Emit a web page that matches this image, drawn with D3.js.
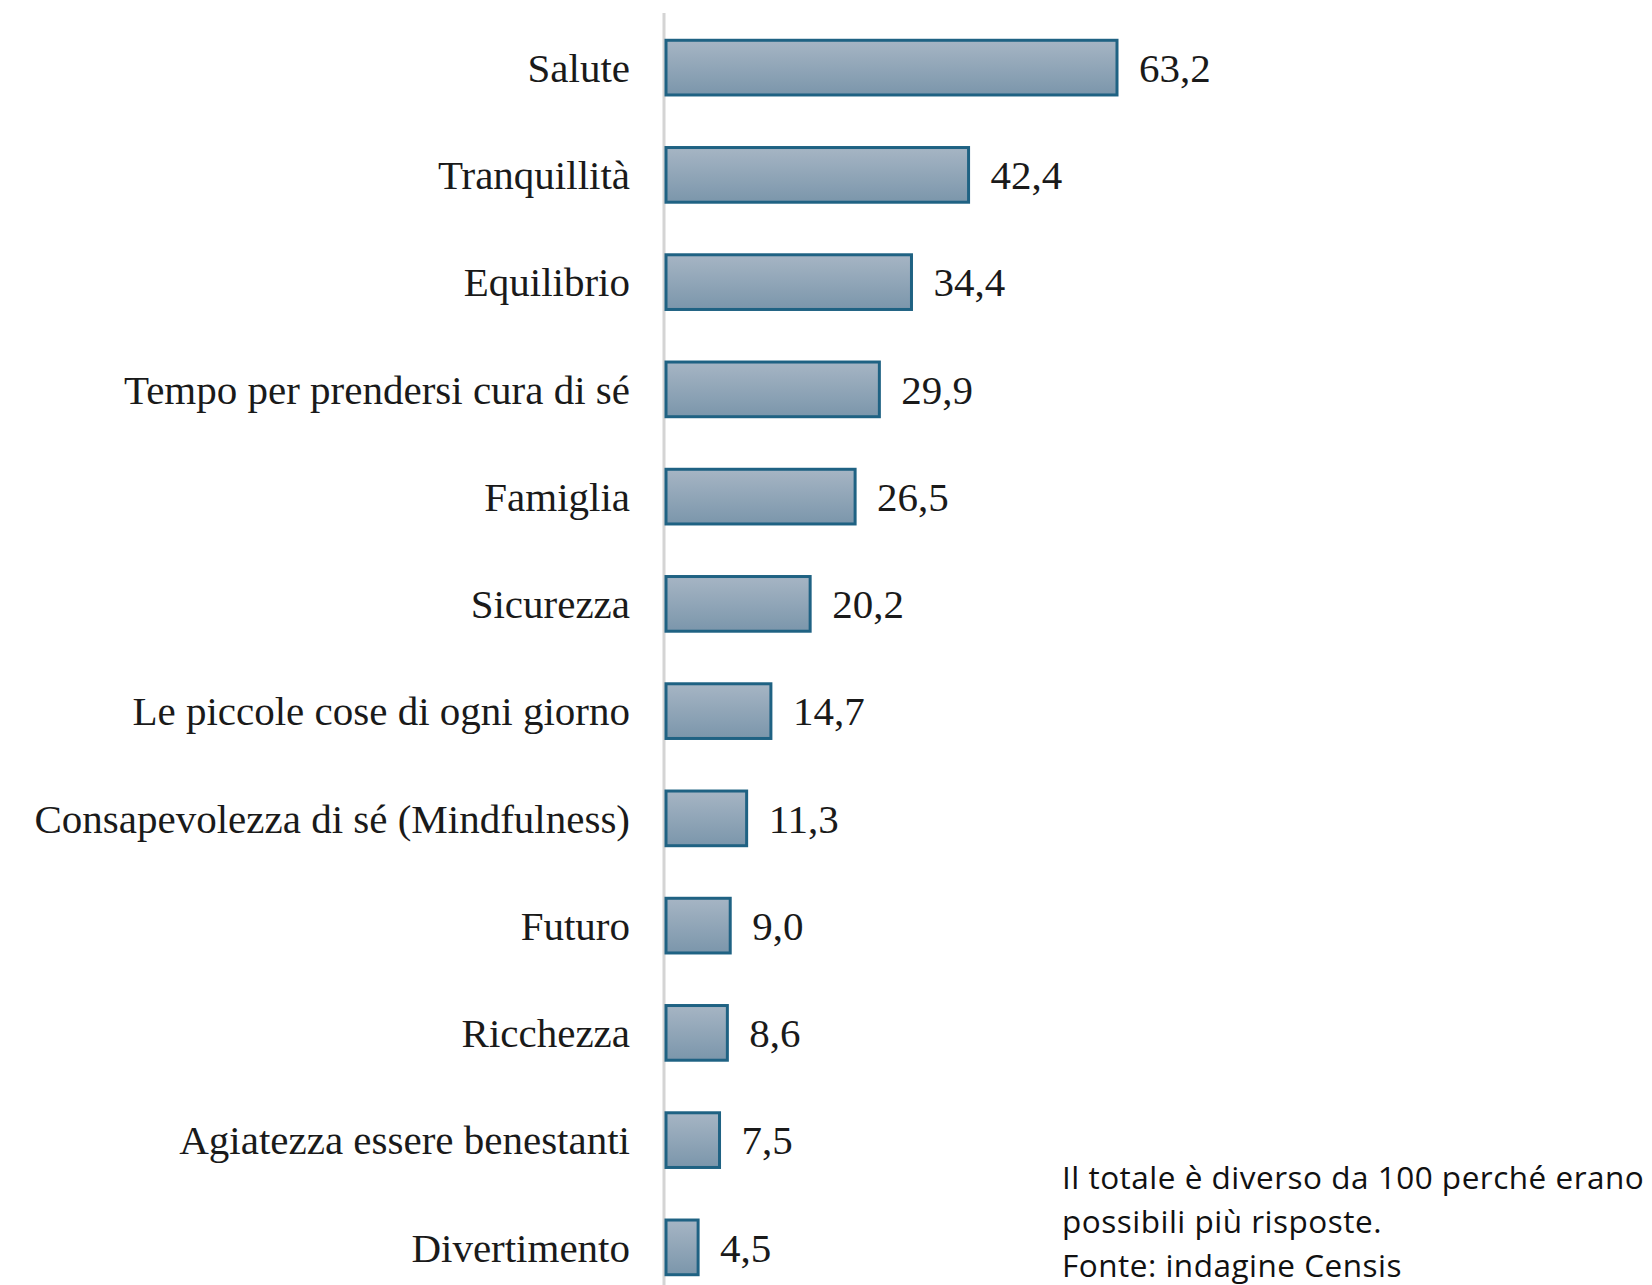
<!DOCTYPE html>
<html>
<head>
<meta charset="UTF-8">
<script src="https://cdnjs.cloudflare.com/ajax/libs/d3/7.8.5/d3.min.js"></script>
<style>
  body { margin: 0; background: #fff; }
  .cat { font-family: "Liberation Serif", "Times New Roman", serif; font-size: 41px; fill: #1a1a1a; }
  .val { font-family: "Liberation Serif", "Times New Roman", serif; font-size: 41px; fill: #1a1a1a; }
  .note { font-family: "Open Sans", "Noto Sans", sans-serif; font-size: 31.5px; letter-spacing: 0.5px; fill: #111; }
</style>
</head>
<body>
<svg width="1652" height="1285"></svg>
<script>
// dati
var categorie = ["Salute", "Tranquillità", "Equilibrio", "Tempo per prendersi cura di sé", "Famiglia",
  "Sicurezza", "Le piccole cose di ogni giorno", "Consapevolezza di sé (Mindfulness)", "Futuro",
  "Ricchezza", "Agiatezza essere benestanti", "Divertimento"];
var valori = [63.2, 42.4, 34.4, 29.9, 26.5, 20.2, 14.7, 11.3, 9.0, 8.6, 7.5, 4.5];
var nota = ["Il totale è diverso da 100 perché erano", "possibili più risposte.", "Fonte: indagine Censis"];

var svg = d3.select("svg");
var x0 = 665;

var defs = svg.append("defs");
var grad = defs.append("linearGradient").attr("id", "gr")
  .attr("x1", 0).attr("y1", 0).attr("x2", 0).attr("y2", 1);
grad.append("stop").attr("offset", "0%").attr("stop-color", "#a6b5c4");
grad.append("stop").attr("offset", "100%").attr("stop-color", "#7b96ab");

var x = d3.scaleLinear().domain([0, 63.2]).range([x0, 1116]);
var y = d3.scaleBand().domain(categorie).range([14, 1301]).paddingInner(0.49).paddingOuter(0.245);

// asse verticale
svg.append("line")
  .attr("x1", x0 - 1).attr("x2", x0 - 1)
  .attr("y1", 13).attr("y2", 1285)
  .attr("stroke", "#d4d4d4").attr("stroke-width", 3);

svg.selectAll(".bar")
  .data(valori)
  .enter()
  .append("rect")
  .attr("class", "bar")
  .attr("x", x0 + 1)
  .attr("y", function(d, i) { return y(categorie[i]); })
  .attr("width", function(d) { return x(d) - x0; })
  .attr("height", y.bandwidth())
  .attr("fill", "url(#gr)")
  .attr("stroke", "#1f6283")
  .attr("stroke-width", 3);

svg.selectAll(".cat")
  .data(categorie)
  .enter()
  .append("text")
  .attr("class", "cat")
  .attr("x", 630)
  .attr("y", function(d) { return y(d) + y.bandwidth() / 2; })
  .attr("dy", "0.35em")
  .attr("text-anchor", "end")
  .text(function(d) { return d; });

svg.selectAll(".val")
  .data(valori)
  .enter()
  .append("text")
  .attr("class", "val")
  .attr("x", function(d) { return x(d) + 23; })
  .attr("y", function(d, i) { return y(categorie[i]) + y.bandwidth() / 2; })
  .attr("dy", "0.35em")
  .text(function(d) { return d.toFixed(1).replace(".", ","); });

svg.selectAll(".note")
  .data(nota)
  .enter()
  .append("text")
  .attr("class", "note")
  .attr("x", 1062)
  .attr("y", function(d, i) { return 1189 + i * 44; })
  .text(function(d) { return d; });
</script>
</body>
</html>
